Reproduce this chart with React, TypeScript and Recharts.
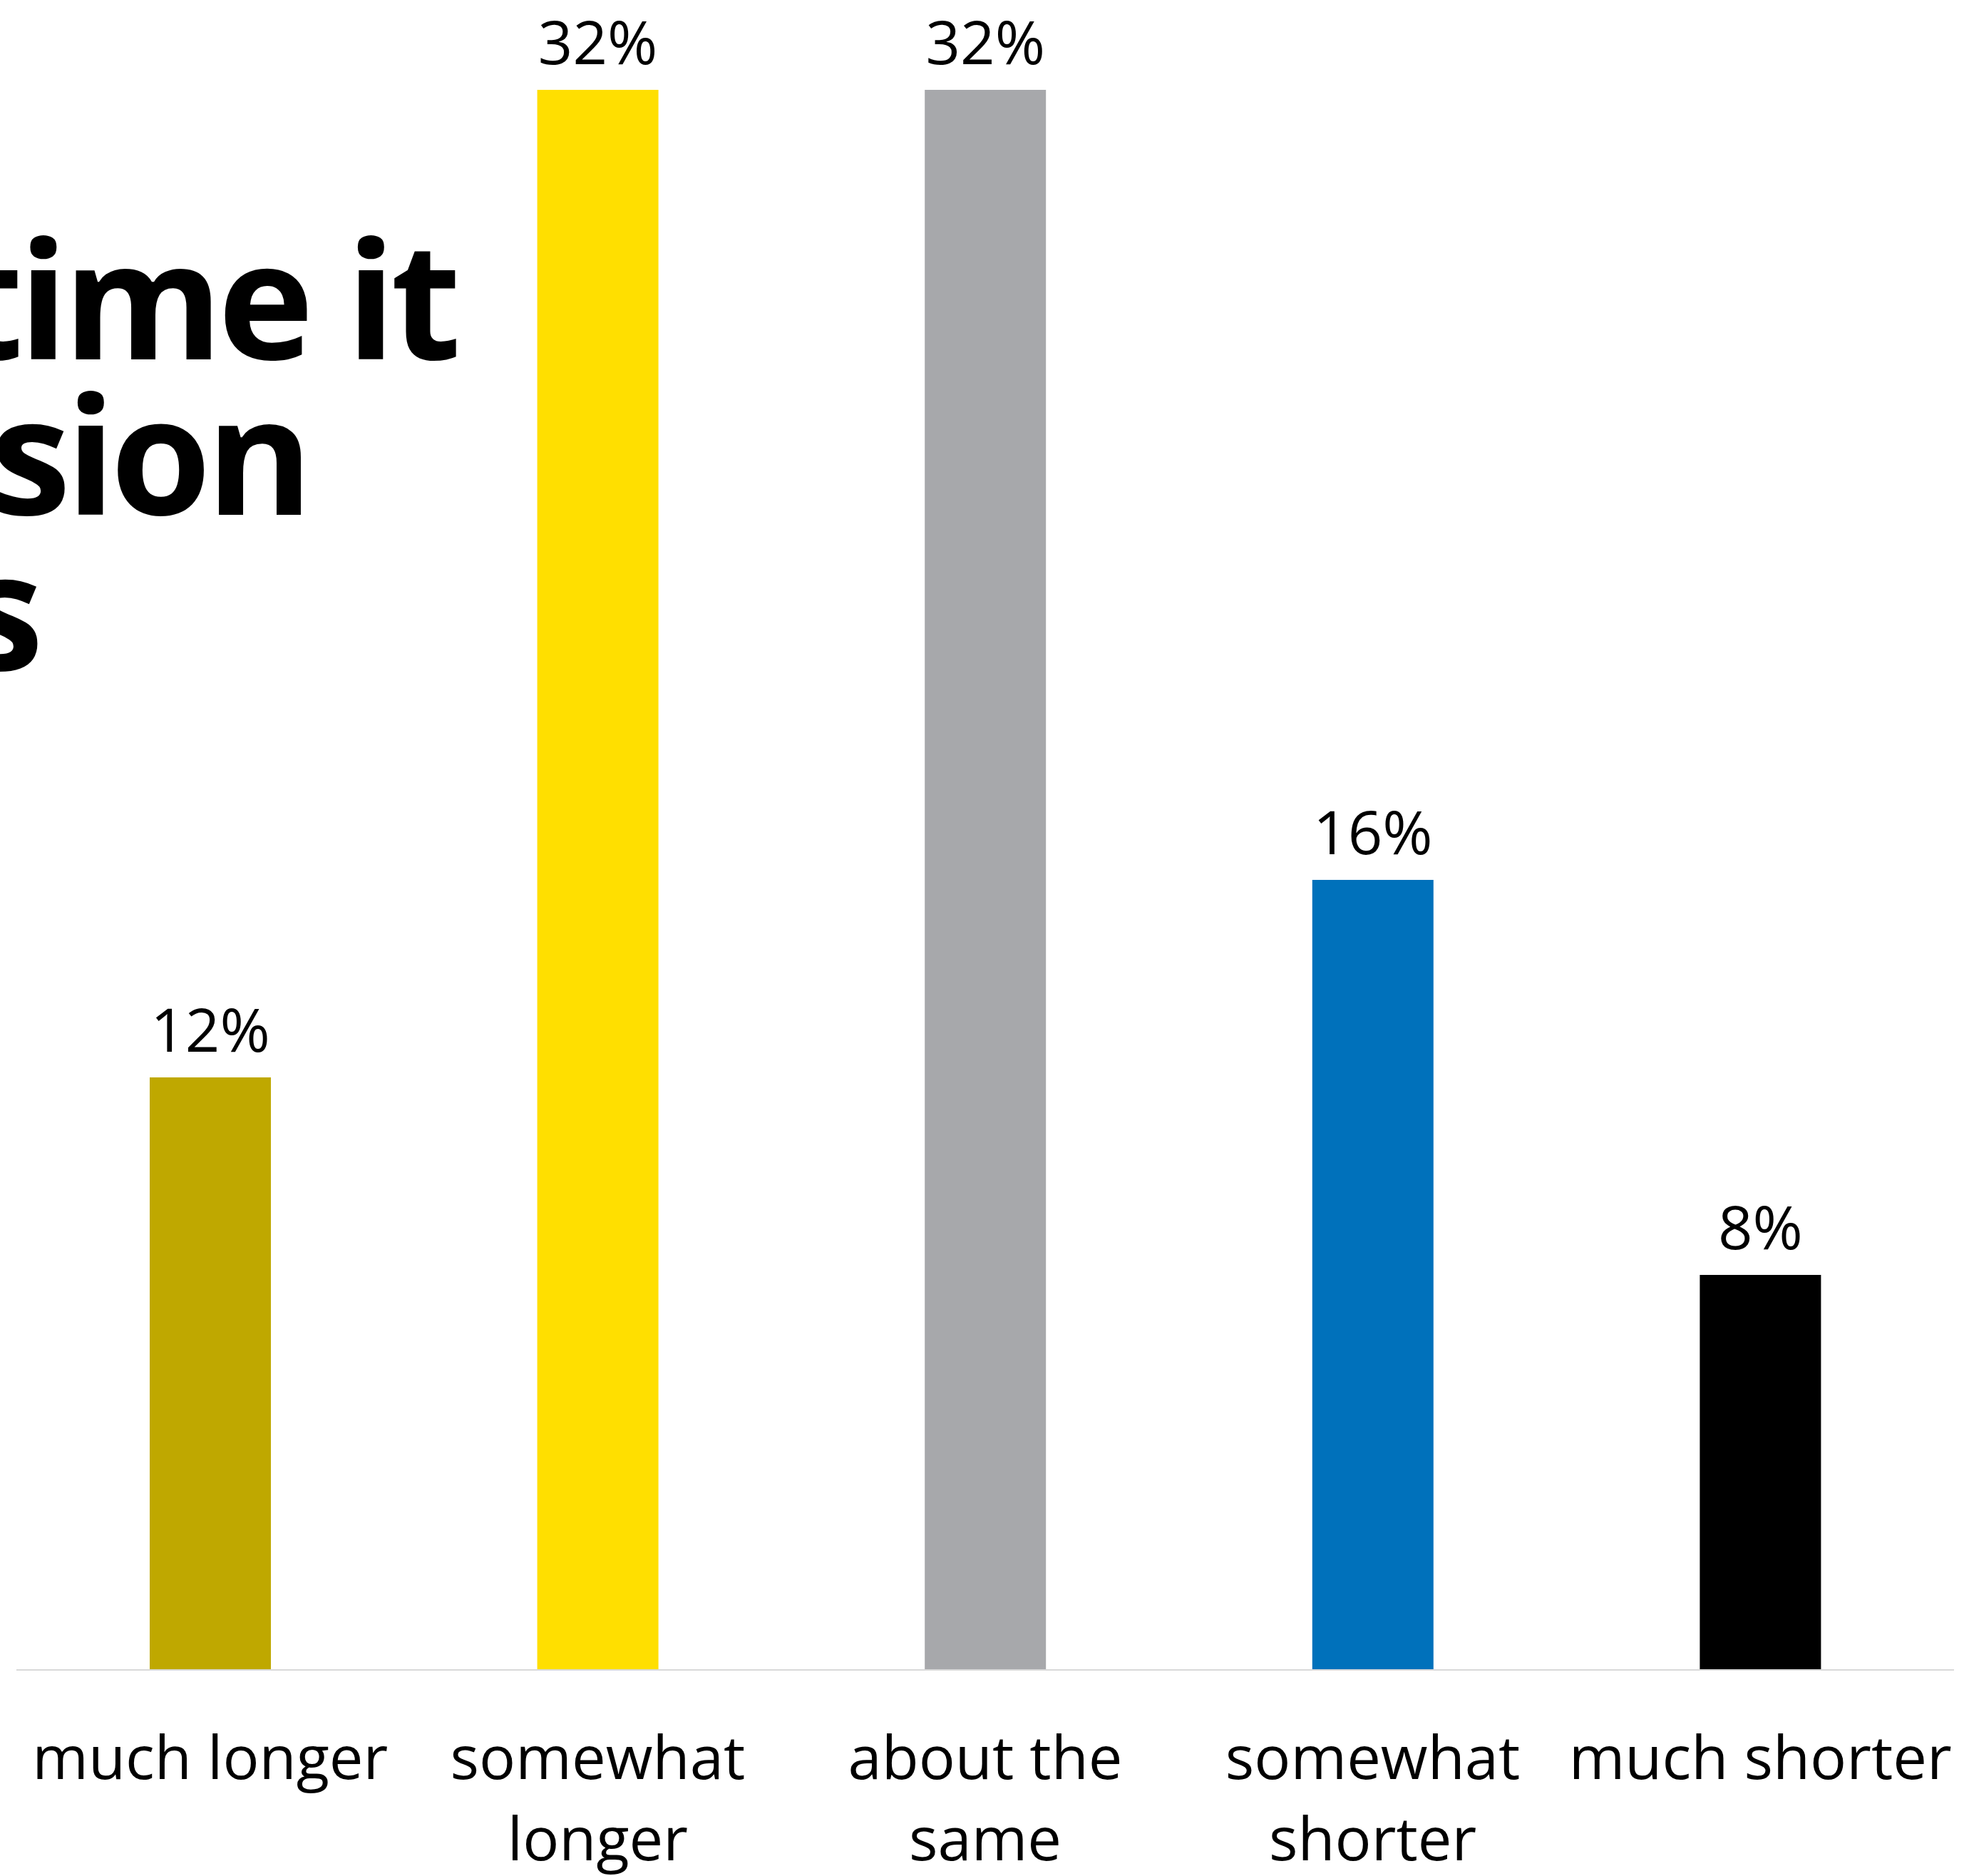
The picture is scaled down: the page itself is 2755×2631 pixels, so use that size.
import { BarChart, Bar, XAxis, YAxis, Cell, LabelList } from "recharts"

const categories = ["much longer", "somewhat longer", "about the same", "somewhat shorter", "much shorter"]
const tickLines = [["much longer"], ["somewhat", "longer"], ["about the", "same"], ["somewhat", "shorter"], ["much shorter"]]
const shares = [12, 32, 32, 16, 8]
const barColors = ["#BFA800", "#FFDF00", "#A7A8AB", "#0071BB", "#000000"]
const titleLines = ["time it", "sion", "s"]

const data = categories.map((name, i) => ({ name, value: shares[i] }))

const font = "'Open Sans', 'Noto Sans', sans-serif"

function CategoryTick(props: any) {
    const { x, y, index } = props
    const lines = tickLines[index] || [props.payload.value]
    return (
        <text x={x} y={y} textAnchor="middle" fontFamily={font} fontSize={85} fill="#000">
            {lines.map((l: string, i: number) => (
                <tspan key={i} x={x} dy={i === 0 ? 153 : 114}>{l}</tspan>
            ))}
        </text>
    )
}

export default function App() {
    return (
        <div style={{ position: "absolute", left: 0, top: 0, width: 2755, height: 2631, background: "#fff" }}>
            <svg width={2755} height={2631} style={{ position: "absolute", left: 0, top: 0 }}>
                {titleLines.map((t, i) => (
                    <text key={i} x={[640, 432, 54][i]} y={504 + i * 218} textAnchor="end" letterSpacing={-7}
                        fontFamily={font} fontWeight={700} fontSize={228} fill="#000">{t}</text>
                ))}
            </svg>
            <div style={{ position: "absolute", left: 0, top: 0 }}>
                <BarChart width={2755} height={2631} data={data} margin={{ top: 126, right: 14, left: 23, bottom: 0 }}>
                    <XAxis dataKey="name" height={289} interval={0} tickLine={false} tickSize={0} tickMargin={0}
                        axisLine={{ stroke: "#d9d9d9", strokeWidth: 2 }} tick={<CategoryTick />} />
                    <YAxis hide domain={[0, 32]} />
                    <Bar dataKey="value" barSize={170} isAnimationActive={false}>
                        {data.map((d, i) => (
                            <Cell key={d.name} fill={barColors[i]} />
                        ))}
                        <LabelList dataKey="value" position="top" offset={36} formatter={(v: any) => `${v}%`}
                            style={{ fontFamily: font, fontSize: 85, fill: "#000" }} />
                    </Bar>
                </BarChart>
            </div>
        </div>
    )
}
